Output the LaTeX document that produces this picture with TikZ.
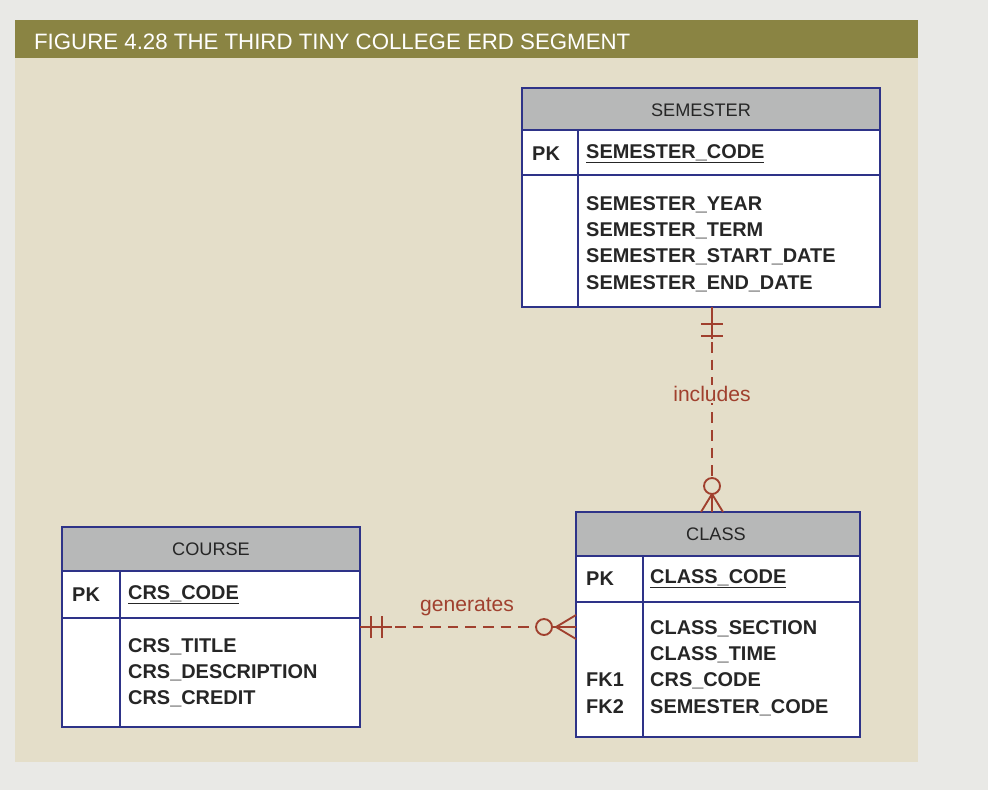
\documentclass[tikz,border=0pt]{standalone}
\usepackage{fontspec}
\setmainfont{Liberation Sans}
\usetikzlibrary{arrows.meta}
\definecolor{pagebg}{HTML}{E9E9E6}
\definecolor{panel}{HTML}{E4DEC9}
\definecolor{olive}{HTML}{8A8443}
\definecolor{hdr}{HTML}{B7B8B8}
\definecolor{navy}{HTML}{2E3388}
\definecolor{rel}{HTML}{A0402E}
\tikzset{
  ent/.style={draw=navy,line width=1.4pt,fill=white},
  hd/.style={draw=navy,line width=1.4pt,fill=hdr},
  ht/.style={font=\fontsize{15.5}{18}\selectfont,text=black!85},
  attr/.style={font=\fontsize{17}{22.5}\selectfont\bfseries,text=black!85,align=left,anchor=north west,inner sep=0pt},
  rl/.style={draw=rel,line width=1.6pt,dash pattern=on 9pt off 6pt},
  mk/.style={draw=rel,line width=1.6pt},
  lab/.style={font=\fontsize{18}{20}\selectfont,text=rel,fill=panel,inner sep=1pt}
}
\begin{document}
\begin{tikzpicture}[x=0.03cm,y=-0.03cm]
\fill[pagebg] (0,0) rectangle (988,790);
\fill[panel] (15,20) rectangle (918,762);
\fill[olive] (15,20) rectangle (918,58);
\node[anchor=west,text=white,font=\fontsize{19}{20}\selectfont] (title) at (30,42) {FIGURE 4.28 THE THIRD TINY COLLEGE ERD SEGMENT};
% SEMESTER
\draw[ent] (522,88) rectangle (880,307);
\draw[hd] (522,88) rectangle (880,130);
\draw[navy,line width=1.4pt] (522,175) -- (880,175) (578,130) -- (578,307);
\node[ht] (semh) at (701,110) {SEMESTER};
\node[attr,anchor=west] (sempk) at (532,154) {PK};
\node[attr,anchor=west] (sempkv) at (586,154) {\underline{SEMESTER\_CODE}};
\node[attr] (sema) at (586,196) {SEMESTER\_YEAR\\SEMESTER\_TERM\\SEMESTER\_START\_DATE\\SEMESTER\_END\_DATE};
\coordinate (semb) at (712,307);
% CLASS
\draw[ent] (576,512) rectangle (860,737);
\draw[hd] (576,512) rectangle (860,556);
\draw[navy,line width=1.4pt] (576,602) -- (860,602) (643,556) -- (643,737);
\node[ht] (clh) at (716,534) {CLASS};
\node[attr,anchor=west] (clpk) at (586,579) {PK};
\node[attr,anchor=west] (clpkv) at (650,579) {\underline{CLASS\_CODE}};
\node[attr] (cla) at (650,620) {CLASS\_SECTION\\CLASS\_TIME\\CRS\_CODE\\SEMESTER\_CODE};
\node[attr] (clfk) at (586,673) {FK1\\FK2};
\coordinate (clt) at (712,512);
\coordinate (cll) at (576,627);
% COURSE
\draw[ent] (62,527) rectangle (360,727);
\draw[hd] (62,527) rectangle (360,571);
\draw[navy,line width=1.4pt] (62,618) -- (360,618) (120,571) -- (120,727);
\node[ht] (coh) at (211,549) {COURSE};
\node[attr,anchor=west] (copk) at (72,595) {PK};
\node[attr,anchor=west] (copkv) at (128,595) {\underline{CRS\_CODE}};
\node[attr] (coa) at (128,638) {CRS\_TITLE\\CRS\_DESCRIPTION\\CRS\_CREDIT};
\coordinate (cor) at (360,627);
% includes
\draw[rl] (semb) -- (clt);
\draw[mk] (semb) -- ++(0,32);
\draw[mk] (701,324) -- (723,324) (701,336) -- (723,336);
\draw[mk,fill=panel] (712,486) circle (8);
\draw[mk] (712,494) -- (712,512) (712,494) -- (701,512) (712,494) -- (723,512);
\node[lab] (inc) at (712,394) {includes};
% generates
\draw[rl] (cor) -- (cll);
\draw[mk] (cor) -- ++(32,0);
\draw[mk] (371,616) -- (371,638) (382,616) -- (382,638);
\draw[mk,fill=panel] (544,627) circle (8);
\draw[mk] (552,627) -- (576,627) (556,627) -- (576,615) (556,627) -- (576,639);
\node[lab,fill=none] (gen) at (467,607) {generates};
\end{tikzpicture}
\end{document}
